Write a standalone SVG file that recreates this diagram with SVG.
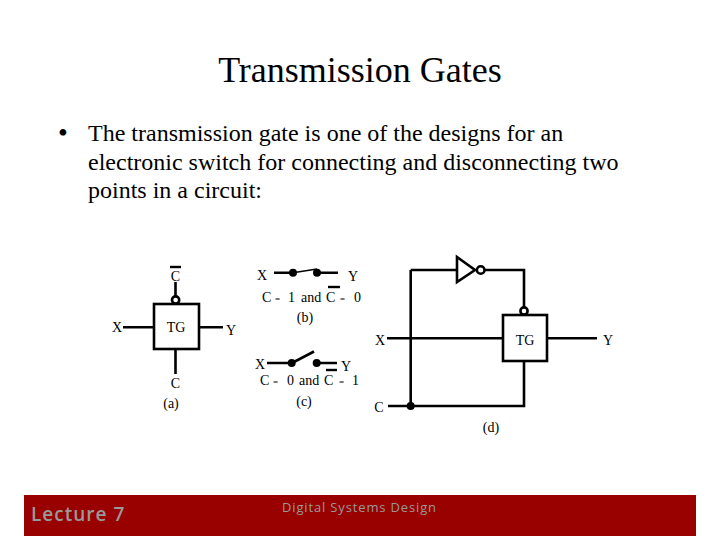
<svg xmlns="http://www.w3.org/2000/svg" width="720" height="540" viewBox="0 0 720 540">
<style>
text{font-family:"Liberation Serif","Times New Roman",serif;fill:#000}
.l{font-size:14px;text-anchor:middle}
.s{font-size:14px}
.e{font-size:9px}
.b{font-size:24px}
.w{fill:none;stroke:#000;stroke-width:2.6}
.t{fill:none;stroke:#000;stroke-width:1.5}
.bar{fill:none;stroke:#000;stroke-width:2.4}
.bub{fill:#fff;stroke:#000;stroke-width:2.6}
.dot{fill:#000}
.box{fill:#fff;stroke:#000;stroke-width:2.6}
.f{font-family:"Open Sans","Noto Sans",sans-serif;fill:#999}
</style>
<rect width="720" height="540" fill="#fff"/>
<g id="title"><text x="360" y="82" font-size="36" text-anchor="middle">Transmission Gates</text></g>
<g id="bullets">
<text x="58" y="142" font-size="28">•</text>
<text class="b" x="88" y="141">The transmission gate is one of the designs for an</text>
<text class="b" x="88" y="170">electronic switch for connecting and disconnecting two</text>
<text class="b" x="88" y="198">points in a circuit:</text>
</g>
<g id="connectors">
<path class="w" d="M175.5 282V297M123 327.3H154M199 327.3H223M175.5 349V374"/>
<path class="w" d="M274 272.7H293M317 272.7H338M267 363H291M317 363H337M292 363L314 351.5"/>
<path class="t" d="M293 272.7L317 269"/>
<path class="w" d="M410.7 270H457M485 270H524V307M410.7 270V406M388 406H524V361M387 338.3H503M547 338.3H597"/>
</g>
<g id="tg-a">
<rect class="box" x="154" y="304" width="45" height="45"/>
<circle class="bub" cx="175.6" cy="300" r="3.6"/>
<text class="l" x="176" y="332">TG</text>
</g>
<g id="labels-a">
<path class="bar" d="M170 267H181"/>
<text class="l" x="175.5" y="281">C</text>
<text class="l" x="117" y="332">X</text>
<text class="l" x="231" y="335">Y</text>
<text class="l" x="175.5" y="388">C</text>
<text class="s" x="171" y="408" text-anchor="middle">(a)</text>
</g>
<g id="switch-b">
<circle class="dot" cx="293" cy="272.7" r="4"/>
<circle class="dot" cx="317" cy="272.7" r="4"/>
<text class="l" x="262" y="280">X</text>
<text class="l" x="353" y="281">Y</text>
<text class="s" x="262" y="302">C</text><text class="s e" x="275" y="302">=</text><text class="s" x="288" y="302">1</text><text class="s" x="301" y="302">and</text><text class="s" x="326" y="302">C</text><text class="s e" x="340" y="302">=</text><text class="s" x="354" y="302">0</text>
<path class="bar" d="M328 287H340"/>
<text class="s" x="305" y="322" text-anchor="middle">(b)</text>
</g>
<g id="switch-c">
<circle class="dot" cx="291.7" cy="363" r="4"/>
<circle class="dot" cx="316.7" cy="363" r="4"/>
<text class="l" x="260" y="369">X</text>
<text class="l" x="346" y="371">Y</text>
<text class="s" x="260" y="385">C</text><text class="s e" x="273" y="385">=</text><text class="s" x="287" y="385">0</text><text class="s" x="299" y="385">and</text><text class="s" x="324" y="385">C</text><text class="s e" x="339" y="385">=</text><text class="s" x="352" y="385">1</text>
<path class="bar" d="M326 370H337"/>
<text class="s" x="304" y="406" text-anchor="middle">(c)</text>
</g>
<g id="inverter">
<path class="box" d="M457 257V282L475 270Z"/>
<circle class="bub" cx="480.7" cy="270" r="3.8"/>
</g>
<g id="tg-d">
<rect class="box" x="503" y="315" width="44" height="46"/>
<circle class="bub" cx="524" cy="311" r="3.6"/>
<text class="l" x="525" y="345">TG</text>
</g>
<g id="labels-d">
<circle class="dot" cx="410.7" cy="406" r="4"/>
<text class="l" x="380" y="345">X</text>
<text class="l" x="608" y="345">Y</text>
<text class="l" x="379" y="412">C</text>
<text class="s" x="491" y="432" text-anchor="middle">(d)</text>
</g>
<g id="footer">
<rect x="24" y="495" width="672" height="41" fill="#990000"/>
<text class="f" x="31" y="521" font-size="19" font-weight="600" letter-spacing="1">Lecture 7</text>
<text class="f" x="282" y="512" font-size="13" letter-spacing="0.85">Digital Systems Design</text>
</g>
</svg>
